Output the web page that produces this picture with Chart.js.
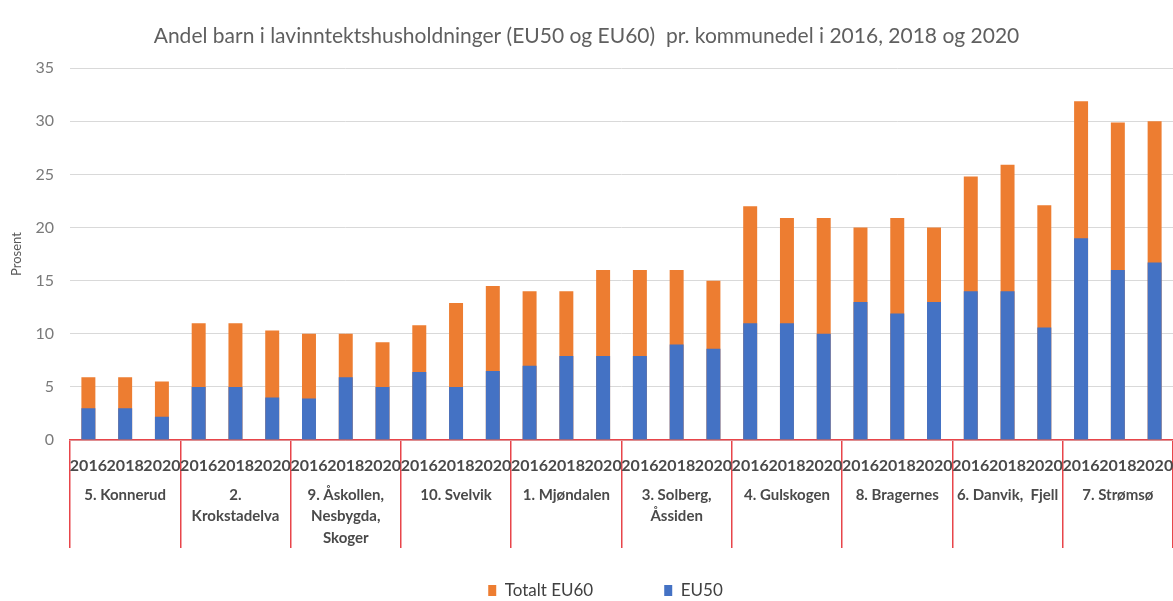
<!DOCTYPE html>
<html><head><meta charset="utf-8">
<script src="https://cdn.jsdelivr.net/npm/chart.js@4/dist/chart.umd.min.js"></script>
<style>html,body{margin:0;padding:0;background:#fff}#wrap{width:1173px;height:601px}</style>
</head><body><div id="wrap"><canvas id="c" width="1173" height="601"></canvas></div>
<script>
// ---- data ----
const districts = [
  ["5. Konnerud"],
  ["2.", "Krokstadelva"],
  ["9. Åskollen,", "Nesbygda,", "Skoger"],
  ["10. Svelvik"],
  ["1. Mjøndalen"],
  ["3. Solberg,", "Åssiden"],
  ["4. Gulskogen"],
  ["8. Bragernes"],
  ["6. Danvik,  Fjell"],
  ["7. Strømsø"]
];
const years = ["2016", "2018", "2020"];
// one value per district and year (2016, 2018, 2020), same order as districts
const totalEU60 = [5.9, 5.9, 5.5,  11, 11, 10.3,  10, 10, 9.2,  10.8, 12.9, 14.5,  14, 14, 16,  16, 16, 15,
                   22, 20.9, 20.9,  20, 20.9, 20,  24.8, 25.9, 22.1,  31.9, 29.9, 30];
const eu50      = [3, 3, 2.2,  5, 5, 4,  3.9, 5.9, 5,  6.4, 5, 6.5,  7, 7.9, 7.9,  7.9, 9, 8.6,
                   11, 11, 10,  13, 11.9, 13,  14, 14, 10.6,  19, 16, 16.7];
const yTicks = { min: 0, max: 35, step: 5 };

const yearLabels = districts.flatMap(() => years);

// ---- styles ----
const FONT = "Lato, 'Open Sans', sans-serif";
const RED = '#e8454a';
const ORANGE = '#ed7d31';
const BLUE = '#4472c4';

const legendShift = {
  id: 'legendShift',
  afterLayout(chart) {
    const lg = chart.legend;
    if (lg) {
      lg.top = 582 - lg.options.labels.padding;
      lg.left += 38;
    }
  }
};

new Chart(document.getElementById('c'), {
  type: 'bar',
  data: {
    labels: yearLabels,
    datasets: [
      { label: 'EU50', data: eu50, backgroundColor: BLUE, grouped: false, order: 0,
        barPercentage: 0.38, categoryPercentage: 1 },
      { label: 'Totalt EU60', data: totalEU60, backgroundColor: ORANGE, grouped: false, order: 1,
        barPercentage: 0.38, categoryPercentage: 1 }
    ]
  },
  options: {
    responsive: false,
    animation: false,
    layout: { padding: 0 },
    plugins: {
      title: {
        display: true,
        text: 'Andel barn i lavinntektshusholdninger (EU50 og EU60)  pr. kommunedel i 2016, 2018 og 2020',
        font: { family: FONT, size: 21, weight: 'normal' },
        color: '#5f5f5f',
        padding: { top: 24, bottom: 19 }
      },
      legend: {
        position: 'bottom',
        reverse: true,
        maxHeight: 52,
        labels: {
          boxWidth: 8, boxHeight: 11, padding: 71,
          font: { family: FONT, size: 17 }, color: '#404040'
        }
      },
      tooltip: { enabled: false }
    },
    scales: {
      x: {
        type: 'category',
        weight: 1,
        offset: true,
        grid: {
          offset: true, drawOnChartArea: false, tickLength: 33, lineWidth: 1.5,
          color: (c) => (c.index === undefined || c.index % 3 === 0) ? RED : 'rgba(0,0,0,0)'
        },
        border: { color: RED, width: 1.5 },
        ticks: {
          autoSkip: false, maxRotation: 0, minRotation: 0, padding: -17,
          font: { family: FONT, size: 16, weight: 'bold' }, color: '#4a4a4a'
        },
        afterFit: (s) => { s.height = 33; }
      },
      x2: {
        type: 'category',
        labels: districts,
        position: 'bottom',
        weight: 2,
        offset: true,
        grid: { offset: true, drawOnChartArea: false, tickLength: 75, lineWidth: 1.5, color: RED },
        border: { display: false },
        ticks: {
          autoSkip: false, maxRotation: 0, minRotation: 0, padding: -64,
          font: { family: FONT, size: 15, weight: 'bold', lineHeight: 1.45 }, color: '#4a4a4a'
        },
        afterFit: (s) => { s.height = 76; }
      },
      y: {
        min: yTicks.min, max: yTicks.max,
        ticks: { stepSize: yTicks.step, padding: 16, font: { family: FONT, size: 16 }, color: '#7a7a7a' },
        grid: { color: '#d9d9d9', drawTicks: false, lineWidth: 1 },
        border: { display: false },
        title: {
          display: true, text: 'Prosent',
          font: { family: FONT, size: 13 }, color: '#595959',
          padding: { top: 9, bottom: 0 }
        },
        afterFit: (s) => { s.width = 70; }
      }
    }
  },
  plugins: [legendShift]
});
</script>
</body></html>
